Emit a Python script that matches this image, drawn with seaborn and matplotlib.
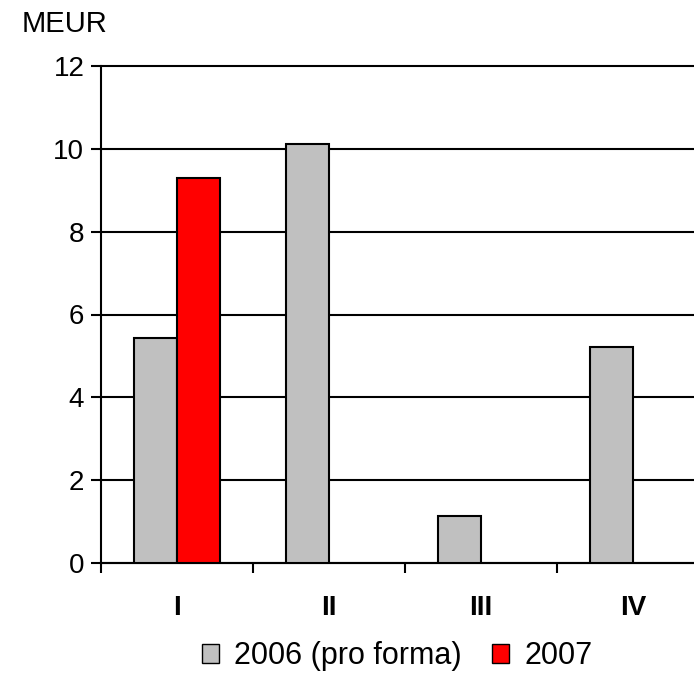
import numpy as np
import pandas as pd
import matplotlib.pyplot as plt
import seaborn as sns

sns.set_theme(style="white")
plt.rcParams['font.family'] = ['Liberation Sans', 'DejaVu Sans']
plt.rcParams['text.color'] = 'black'
plt.rcParams['xtick.color'] = 'black'
plt.rcParams['ytick.color'] = 'black'

# data (MEUR per quarter)
quarters = ['I', 'II', 'III', 'IV']
values_2006 = [5.43, 10.12, 1.13, 5.22]
values_2007 = [9.30, np.nan, np.nan, np.nan]
series = ['2006 (pro forma)', '2007']

df = pd.DataFrame({
    'Quarter': quarters * 2,
    'Value': values_2006 + values_2007,
    'Series': [series[0]] * 4 + [series[1]] * 4,
})

fig = plt.figure(figsize=(6.94, 6.84), dpi=100)
ax = fig.add_axes([101 / 694, 1 - 563 / 684, 608 / 694, 497 / 684])

sns.barplot(data=df, x='Quarter', y='Value', hue='Series',
            palette=['#c0c0c0', '#ff0000'], saturation=1, width=0.57,
            edgecolor='black', linewidth=1.5, ax=ax, zorder=3)

ax.set_xlim(-0.5, 3.5)
ax.set_ylim(0, 12)
ax.set_yticks(range(0, 13, 2))
ax.set_xlabel('')
ax.set_ylabel('')

# category boundaries as ticks, labels in the middle
ax.set_xticks(np.arange(-0.5, 4, 1.0))
ax.set_xticklabels([])
ax.set_xticks(range(4), minor=True)
ax.set_xticklabels(quarters, minor=True, fontsize=20, fontweight='bold')
ax.tick_params(axis='x', which='minor', length=0, pad=23)
ax.tick_params(axis='x', which='major', direction='out', length=7, width=1.5, color='black', bottom=True)
ax.tick_params(axis='y', direction='out', length=7, width=1.5, color='black', left=True,
               labelsize=20, pad=5)

ax.yaxis.grid(True, color='black', linewidth=1.5)
ax.set_axisbelow(True)
for line in ax.get_ygridlines():
    line.set_clip_on(False)

for side in ['top', 'right']:
    ax.spines[side].set_visible(False)
for side in ['left', 'bottom']:
    ax.spines[side].set_color('black')
    ax.spines[side].set_linewidth(1.5)

fig.text(22 / 694, 1 - 24 / 684, 'MEUR', fontsize=21, va='center', ha='left')

sns.move_legend(ax, 'center', bbox_to_anchor=(0.487, -0.188), ncol=2, frameon=False,
                title=None, fontsize=22, handlelength=0.55, handleheight=0.55,
                handletextpad=0.5, columnspacing=1.0)
for h in ax.get_legend().legend_handles:
    h.set_edgecolor('black')
    h.set_linewidth(1.0)

fig.savefig('out.png', dpi=100)
